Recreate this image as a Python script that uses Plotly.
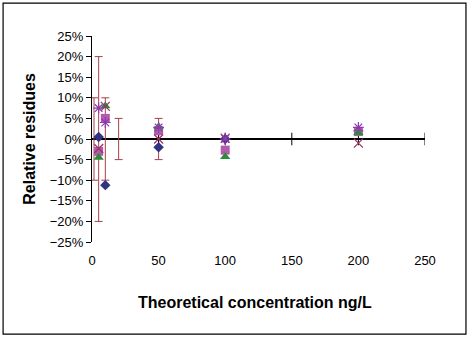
import plotly.graph_objects as go

# Data (fractions of 1 = 100%)
conc = [5, 10, 50, 100, 200]
diamond = [0.005, -0.112, -0.020, 0.000, 0.020]
square = [-0.030, 0.050, 0.020, -0.027, 0.018]
triangle = [-0.045, 0.080, 0.030, -0.043, 0.015]
xmark = [-0.023, 0.079, 0.000, 0.002, -0.010]
star = [0.075, 0.040, 0.028, 0.000, 0.028]

# acceptance limits shown as error bars
limit_conc = [1.5, 5, 10, 20, 50]
limit_zero = [0, 0, 0, 0, 0]
limit_err = [0.10, 0.20, 0.10, 0.05, 0.05]

x_ticks = [0, 50, 100, 150, 200, 250]
x_tick_marks = [50, 100, 150, 200, 250]

fig = go.Figure()

fig.add_trace(go.Scatter(
    x=limit_conc, y=limit_zero, mode="markers",
    marker=dict(color="rgba(0,0,0,0)", size=1),
    error_y=dict(type="data", array=limit_err, visible=True,
                 color="#A3404D", thickness=1, width=4),
    showlegend=False, hoverinfo="skip"))

# tick marks crossing the zero line
fig.add_trace(go.Scatter(
    x=x_tick_marks, y=[0] * len(x_tick_marks), mode="markers",
    marker=dict(symbol="line-ns", size=9, color="black",
                line=dict(color="black", width=1)),
    showlegend=False, hoverinfo="skip"))

fig.add_trace(go.Scatter(x=conc, y=diamond, mode="markers",
                         marker=dict(symbol="diamond", size=8, color="#2E3383"),
                         showlegend=False))
fig.add_trace(go.Scatter(x=conc, y=square, mode="markers",
                         marker=dict(symbol="square", size=9, color="#B25AAE"),
                         showlegend=False))
fig.add_trace(go.Scatter(x=conc, y=triangle, mode="markers",
                         marker=dict(symbol="triangle-up", size=9, color="#2E8B3A"),
                         showlegend=False))
fig.add_trace(go.Scatter(x=conc, y=xmark, mode="markers",
                         marker=dict(symbol="x-thin-open", size=9, color="#993366",
                                     line=dict(color="#993366", width=1.2)),
                         showlegend=False))
fig.add_trace(go.Scatter(x=conc, y=star, mode="markers",
                         marker=dict(symbol="asterisk-open", size=9, color="#8E3AAE",
                                     line=dict(color="#8E3AAE", width=1.2)),
                         showlegend=False))

fig.update_layout(
    width=475, height=339,
    margin=dict(l=92, r=50, t=36, b=97),
    paper_bgcolor="white", plot_bgcolor="white",
    font=dict(family="Liberation Sans, Arial, sans-serif", size=13, color="black"),
    xaxis=dict(range=[0, 250], tickvals=x_ticks, showline=False, showgrid=False,
               zeroline=False, ticks="", ticklabelstandoff=9,
               tickfont=dict(size=13)),
    yaxis=dict(range=[-0.25, 0.25], dtick=0.05, tickformat=".0%",
               showline=True, linecolor="black", linewidth=1,
               ticks="outside", ticklen=5, tickcolor="black",
               showgrid=False, zeroline=True, zerolinecolor="black",
               zerolinewidth=1.5, tickfont=dict(size=13)),
    annotations=[
        dict(text="<b>Relative residues</b>", xref="paper", yref="paper",
             x=-0.19, y=0.5, textangle=-90, showarrow=False,
             font=dict(size=16), xanchor="center", yanchor="middle"),
        dict(text="<b>Theoretical concentration ng/L</b>", xref="paper", yref="paper",
             x=0.49, y=-0.296, showarrow=False, font=dict(size=16),
             xanchor="center", yanchor="middle"),
    ],
    shapes=[dict(type="rect", xref="paper", yref="paper",
                 x0=-0.267, x1=1.123, y0=-0.447, y1=1.160,
                 line=dict(color="black", width=1.2))],
)

fig.write_html("out.html")
